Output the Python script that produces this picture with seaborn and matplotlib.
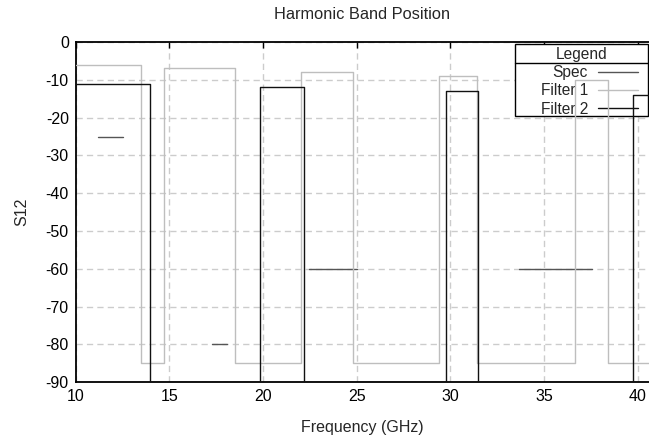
import numpy as np
import pandas as pd
import matplotlib
matplotlib.use("Agg")
import matplotlib.pyplot as plt
import seaborn as sns
from matplotlib.lines import Line2D
from matplotlib.patches import Rectangle

# ---- data ----
freq_f1 = [10.0, 13.47, 14.7, 18.5, 22.02, 24.78, 29.38, 31.42, 36.66, 38.4, 40.6]
s12_f1 = [-6, -85, -7, -85, -8, -85, -9, -85, -10, -85, -85]
freq_f2 = [10.0, 13.97, 19.85, 22.16, 29.76, 31.45, 39.72, 40.6]
s12_f2 = [-11, -90, -12, -90, -13, -90, -14, -14]
spec_start = [11.2, 17.3, 22.43, 33.68]
spec_stop = [12.5, 18.1, 25.03, 37.57]
spec_level = [-25, -80, -60, -60]
x_ticks = [10, 15, 20, 25, 30, 35, 40]
y_ticks = [0, -10, -20, -30, -40, -50, -60, -70, -80, -90]
series_names = ['Spec', 'Filter 1', 'Filter 2']

sns.set_style("white")
plt.rcParams['font.family'] = ['Liberation Sans', 'DejaVu Sans']
plt.rcParams['axes.unicode_minus'] = False

W, H = 649, 441
fig = plt.figure(figsize=(W / 100, H / 100), dpi=100)
ax = fig.add_axes([75.7 / W, 58.7 / H, (W - 75.7) / W, (382.3 - 42) / H])

c_spec = '#555555'
c_f1 = '#bebebe'
c_f2 = '#111111'

spec_df = pd.DataFrame({
    'freq': [v for a, b in zip(spec_start, spec_stop) for v in (a, b)],
    's12': [v for l in spec_level for v in (l, l)],
    'seg': [i for i in range(len(spec_level)) for _ in range(2)],
})

sns.lineplot(data=spec_df, x='freq', y='s12', units='seg', estimator=None,
             sort=False, color=c_spec, lw=1.0, ax=ax, legend=False, zorder=3)
sns.lineplot(x=freq_f1, y=s12_f1, estimator=None, sort=False, drawstyle='steps-post',
             color=c_f1, lw=1.0, ax=ax, zorder=3)
sns.lineplot(x=freq_f2, y=s12_f2, estimator=None, sort=False, drawstyle='steps-post',
             color=c_f2, lw=1.0, ax=ax, zorder=3)

ax.set_xlim(10, 40.6)
ax.set_ylim(-90, 0)
ax.set_xticks(x_ticks)
ax.set_yticks(y_ticks)
ax.set_axisbelow(True)
ax.grid(True, color='#cccccc', lw=1.0, linestyle=(0, (4.5, 3.0)))
ax.tick_params(direction='in', length=4, width=1, top=True, right=False,
               labelsize=11.5, pad=5, colors='black')
for side in ['left', 'bottom', 'top']:
    ax.spines[side].set_color('black')
    ax.spines[side].set_linewidth(1.3)
ax.spines['right'].set_visible(False)

ax.set_title("Harmonic Band Position", fontsize=11.8, pad=16.5)
ax.set_xlabel("Frequency (GHz)", fontsize=11.5, labelpad=11)
ax.set_ylabel("S12", fontsize=11.5, labelpad=12)

# ---- legend (gnuplot style: titled box, label then sample) ----
def px(x, y):
    return (x / W, 1 - y / H)

box_l, box_r, box_t, box_b, sep_y = 515, 648, 44, 116, 62.7
ax.add_patch(Rectangle(px(box_l, box_b), (box_r - box_l) / W, (box_b - box_t) / H,
                       transform=fig.transFigure, clip_on=False, facecolor='white',
                       edgecolor='black', lw=1.0, zorder=2.5))
ax.add_line(Line2D([box_l / W, box_r / W], [1 - sep_y / H] * 2, color='black', lw=1.0,
                   transform=fig.transFigure, clip_on=False, zorder=2.55))
ax.text(*px((box_l + box_r) / 2, 54), 'Legend', transform=fig.transFigure,
        ha='center', va='center', fontsize=11.2, zorder=2.6)

handles = [Line2D([], [], color=c_spec, lw=1.0),
           Line2D([], [], color=c_f1, lw=1.0),
           Line2D([], [], color=c_f2, lw=1.0)]
leg = ax.legend(handles, series_names,
                loc='upper right', bbox_to_anchor=px(638, 65),
                bbox_transform=fig.transFigure, markerfirst=False,
                fontsize=11.2, frameon=False, borderaxespad=0, borderpad=0,
                handlelength=2.6, handletextpad=0.62, labelspacing=0.21)
leg.set_zorder(2.6)

fig.savefig("out.png", dpi=100)
